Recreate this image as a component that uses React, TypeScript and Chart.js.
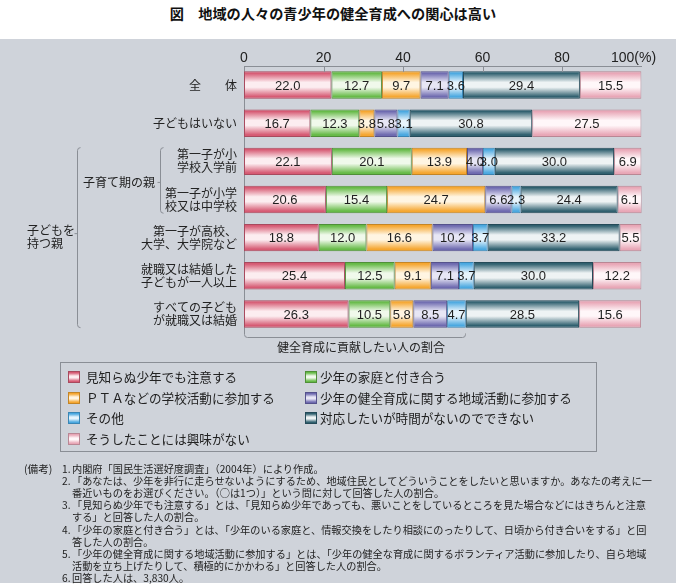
import React, { useEffect, useRef } from 'react';
import { Chart, registerables } from 'chart.js';

Chart.register(...registerables);

// ---------- data ----------
const categories: (string | string[])[] = [
  '全　　体',
  '子どもはいない',
  ['第一子が小', '学校入学前'],
  ['第一子が小学', '校又は中学校'],
  ['第一子が高校、', '大学、大学院など'],
  ['就職又は結婚した', '子どもが一人以上'],
  ['すべての子ども', 'が就職又は結婚'],
];

const seriesNames = [
  '見知らぬ少年でも注意する',
  '少年の家庭と付き合う',
  'ＰＴＡなどの学校活動に参加する',
  '少年の健全育成に関する地域活動に参加する',
  'その他',
  '対応したいが時間がないのでできない',
  'そうしたことには興味がない',
];

const chuui = [22.0, 16.7, 22.1, 20.6, 18.8, 25.4, 26.3];
const katei = [12.7, 12.3, 20.1, 15.4, 12.0, 12.5, 10.5];
const pta = [9.7, 3.8, 13.9, 24.7, 16.6, 9.1, 5.8];
const chiiki = [7.1, 5.8, 4.0, 6.6, 10.2, 7.1, 8.5];
const sonota = [3.6, 3.1, 3.0, 2.3, 3.7, 3.7, 4.7];
const jikan = [29.4, 30.8, 30.0, 24.4, 33.2, 30.0, 28.5];
const kyomi = [15.5, 27.5, 6.9, 6.1, 5.5, 12.2, 15.6];

const xTicks = [0, 20, 40, 60, 80, 100];
const xTickLabels = ['0', '20', '40', '60', '80', '100(%)'];

const groupChildRearing = '子育て期の親';
const groupParents = ['子どもを', '持つ親'];
const contributeLabel = '健全育成に貢献したい人の割合';
const contributeSpan = [0, 55.6];

const titleText = '図　地域の人々の青少年の健全育成への関心は高い';
const notesHead = '(備考)';
const notes: [string, string[]][] = [
  ['1.', ['内閣府「国民生活選好度調査」（2004年）により作成。']],
  ['2.', ['「あなたは、少年を非行に走らせないようにするため、地域住民としてどういうことをしたいと思いますか。あなたの考えに一', '番近いものをお選びください。（○は1つ）」という問に対して回答した人の割合。']],
  ['3.', ['「見知らぬ少年でも注意する」とは、「見知らぬ少年であっても、悪いことをしているところを見た場合などにはきちんと注意', 'する」と回答した人の割合。']],
  ['4.', ['「少年の家庭と付き合う」とは、「少年のいる家庭と、情報交換をしたり相談にのったりして、日頃から付き合いをする」と回', '答した人の割合。']],
  ['5.', ['「少年の健全育成に関する地域活動に参加する」とは、「少年の健全な育成に関するボランティア活動に参加したり、自ら地域', '活動を立ち上げたりして、積極的にかかわる」と回答した人の割合。']],
  ['6.', ['回答した人は、3,830人。']],
];

const seriesValues = [chuui, katei, pta, chiiki, sonota, jikan, kyomi];

// ---------- styles ----------
const palette = [
  { edge: '#d65a73', mid: '#fcedf0', border: '#a84a5e' },
  { edge: '#66ba47', mid: '#f0f9eb', border: '#4f8f38' },
  { edge: '#f5a630', mid: '#fff5e2', border: '#c48526' },
  { edge: '#6e6aaf', mid: '#e7e6f5', border: '#55528c' },
  { edge: '#4aa8e0', mid: '#e7f4fc', border: '#3a86b5' },
  { edge: '#30606f', mid: '#eef3f4', border: '#244a58' },
  { edge: '#e8a6b6', mid: '#fff7f9', border: '#b98794' },
];
const BAR_FRAC = 0.72;
const CJK = '"Noto Sans CJK JP", "Noto Sans", sans-serif';
const NUM = '"Liberation Sans Narrow", "Liberation Sans", Arial, sans-serif';
const LINE = '#8a8e95';

function makeGradient(chart: any, dataIndex: number, p: any) {
  const ys = chart.scales?.y;
  if (!ys || !isFinite(ys.height) || ys.height <= 0) return p.edge;
  const yc = ys.getPixelForValue(dataIndex);
  const half = (ys.height / categories.length) * BAR_FRAC / 2;
  const g = chart.ctx.createLinearGradient(0, yc - half, 0, yc + half);
  g.addColorStop(0, p.edge);
  g.addColorStop(0.07, p.edge);
  g.addColorStop(0.4, p.mid);
  g.addColorStop(0.58, p.mid);
  g.addColorStop(0.92, p.edge);
  g.addColorStop(1, p.edge);
  return g;
}

const decorPlugin = {
  id: 'decor',
  afterDraw(chart: any) {
    const { ctx, chartArea } = chart;
    const xs = chart.scales.x;
    const ys = chart.scales.y;
    const half = (ys.height / categories.length) * BAR_FRAC / 2;
    ctx.save();

    // x tick marks and labels
    ctx.strokeStyle = LINE;
    ctx.lineWidth = 1;
    xTicks.forEach((v, i) => {
      const x = Math.round(xs.getPixelForValue(v)) + 0.5;
      if (i > 0 && i < xTicks.length - 1) {
        ctx.beginPath();
        ctx.moveTo(x, chartArea.top);
        ctx.lineTo(x, chartArea.top + 6);
        ctx.stroke();
      }
      ctx.fillStyle = '#222';
      ctx.font = `14px ${NUM}`;
      ctx.textAlign = 'center';
      ctx.textBaseline = 'middle';
      const off = i === xTicks.length - 1 ? -8 : 0;
      ctx.fillText(xTickLabels[i], xs.getPixelForValue(v) + off, chartArea.top - 8);
    });

    // value labels
    ctx.font = `13px ${NUM}`;
    ctx.fillStyle = '#1e1e1e';
    ctx.textAlign = 'center';
    ctx.textBaseline = 'middle';
    chart.data.datasets.forEach((ds: any, di: number) => {
      const meta = chart.getDatasetMeta(di);
      meta.data.forEach((el: any, j: number) => {
        const cx = (el.x + el.base) / 2;
        ctx.fillText(Number(ds.data[j]).toFixed(1), cx, el.y + 1);
      });
    });

    // group brackets
    const r = 3;
    const vBracket = (x: number, y0: number, y1: number, ym: number) => {
      ctx.beginPath();
      ctx.moveTo(x + r, y0);
      ctx.quadraticCurveTo(x, y0, x, y0 + r);
      ctx.lineTo(x, y1 - r);
      ctx.quadraticCurveTo(x, y1, x + r, y1);
      ctx.moveTo(x, ym);
      ctx.lineTo(x - 3, ym);
      ctx.stroke();
    };
    ctx.strokeStyle = LINE;
    const y2 = ys.getPixelForValue(2);
    const y3 = ys.getPixelForValue(3);
    const y4 = ys.getPixelForValue(4);
    const y6 = ys.getPixelForValue(6);
    vBracket(160.5, y2 - half, y3 + half, (y2 + y3) / 2 + 2);
    vBracket(77.5, y2 - half, y6 + half, y4 - 4);

    ctx.font = `12px ${CJK}`;
    ctx.fillStyle = '#222';
    ctx.textAlign = 'right';
    ctx.textBaseline = 'middle';
    ctx.fillText(groupChildRearing, 155, (y2 + y3) / 2 + 2);
    ctx.textAlign = 'left';
    ctx.fillText(groupParents[0], 27, y4 - 7);
    ctx.fillText(groupParents[1], 27, y4 + 6);

    // bottom bracket
    const bx0 = Math.round(xs.getPixelForValue(contributeSpan[0])) + 0.5;
    const bx1 = Math.round(xs.getPixelForValue(contributeSpan[1])) + 0.5;
    const yb = chartArea.bottom + 4.5;
    ctx.beginPath();
    ctx.moveTo(bx0, chartArea.bottom);
    ctx.lineTo(bx0, yb - r);
    ctx.quadraticCurveTo(bx0, yb, bx0 + r, yb);
    ctx.lineTo(bx1 - r, yb);
    ctx.quadraticCurveTo(bx1, yb, bx1, yb - r);
    ctx.lineTo(bx1, yb - 4);
    ctx.stroke();
    ctx.textAlign = 'center';
    ctx.fillText(contributeLabel, (bx0 + bx1) / 2 + 6, yb + 10);

    ctx.restore();
  },
};

function Swatch({ p }: { p: any }) {
  return (
    <span
      style={{
        position: 'absolute',
        left: 0,
        top: 2,
        width: 10,
        height: 10,
        border: `1px solid ${p.border}`,
        background: `linear-gradient(to bottom, ${p.edge} 0%, ${p.edge} 8%, ${p.mid} 40%, ${p.mid} 58%, ${p.edge} 92%, ${p.edge} 100%)`,
      }}
    />
  );
}

export default function App() {
  const ref = useRef<HTMLCanvasElement>(null);

  useEffect(() => {
    if (!ref.current) return;
    const chart = new Chart(ref.current, {
      type: 'bar',
      data: {
        labels: categories as any,
        datasets: seriesNames.map((name, i) => ({
          label: name,
          data: seriesValues[i],
          backgroundColor: (c: any) => makeGradient(c.chart, c.dataIndex, palette[i]),
          borderColor: palette[i].border,
          borderWidth: 1,
          borderSkipped: false,
          barPercentage: BAR_FRAC,
          categoryPercentage: 1,
        })),
      },
      options: {
        indexAxis: 'y',
        responsive: false,
        animation: false,
        devicePixelRatio: 1,
        layout: { padding: { left: 0, top: 66, right: 38.5, bottom: 253 } },
        plugins: { legend: { display: false }, tooltip: { enabled: false } },
        scales: {
          x: {
            type: 'linear',
            position: 'top',
            stacked: true,
            min: 0,
            max: 100,
            ticks: { display: false, stepSize: 20 },
            grid: { display: false, drawTicks: false, tickLength: 0 },
            border: { display: true, color: LINE, width: 1 },
            afterFit: (s: any) => { s.height = 0; },
          },
          y: {
            type: 'category',
            stacked: true,
            ticks: {
              color: '#222',
              padding: 7,
              font: { family: CJK, size: 12, lineHeight: 1.08 },
              autoSkip: false,
            },
            grid: { display: false, drawTicks: false, tickLength: 0 },
            border: { display: true, color: LINE, width: 1 },
            afterFit: (s: any) => { s.width = 244; },
          },
        },
      },
      plugins: [decorPlugin],
    });
    return () => chart.destroy();
  }, []);

  const legendRows = [
    [0, 1],
    [2, 3],
    [4, 5],
    [6],
  ];
  const legendY = [377, 397.5, 418, 438.5];
  const colX = [68, 305];

  return (
    <div
      style={{
        position: 'absolute',
        left: 0,
        top: 0,
        width: 680,
        height: 586,
        background: '#fff',
        overflow: 'hidden',
        fontFamily: CJK,
        color: '#222',
      }}
    >
      <div style={{ position: 'absolute', left: 0, top: 39, width: 676, height: 544, background: '#cfd3da' }} />
      <div
        style={{
          position: 'absolute',
          left: 0,
          top: 4,
          width: 666,
          textAlign: 'center',
          fontSize: 14.2,
          lineHeight: '18px',
          fontWeight: 'bold',
          color: '#111',
          whiteSpace: 'nowrap',
        }}
      >
        {titleText}
      </div>
      <canvas ref={ref} width={680} height={586} style={{ position: 'absolute', left: 0, top: 0, width: 680, height: 586 }} />
      <div
        style={{
          position: 'absolute',
          left: 60,
          top: 362,
          width: 535,
          height: 88,
          border: `1px solid ${LINE}`,
        }}
      />
      {legendRows.map((row, ri) =>
        row.map((si, ci) => (
          <div
            key={si}
            style={{
              position: 'absolute',
              left: colX[ci],
              top: legendY[ri] - 8,
              height: 16,
              lineHeight: '16px',
              paddingLeft: ci === 0 ? 18 : 15,
              fontSize: 12.6,
              whiteSpace: 'nowrap',
            }}
          >
            <Swatch p={palette[si]} />
            {seriesNames[si]}
          </div>
        ))
      )}
      {(() => {
        const out: any[] = [];
        let line = 0;
        const y0 = 469;
        const step = 12.1;
        out.push(
          <div key="head" style={{ position: 'absolute', left: 24, top: y0 - 6, fontSize: 10.6, lineHeight: '12px', whiteSpace: 'nowrap' }}>
            {notesHead}
          </div>
        );
        notes.forEach(([num, lines], ni) => {
          lines.forEach((t, li) => {
            const top = y0 + line * step - 6;
            if (li === 0) {
              out.push(
                <div key={`n${ni}`} style={{ position: 'absolute', left: 62, top, fontSize: 10.2, lineHeight: '12px', whiteSpace: 'nowrap' }}>
                  {num}
                </div>
              );
            }
            out.push(
              <div key={`t${ni}-${li}`} style={{ position: 'absolute', left: 72, top, fontSize: 10.2, lineHeight: '12px', whiteSpace: 'nowrap' }}>
                {t}
              </div>
            );
            line++;
          });
        });
        return out;
      })()}
    </div>
  );
}
